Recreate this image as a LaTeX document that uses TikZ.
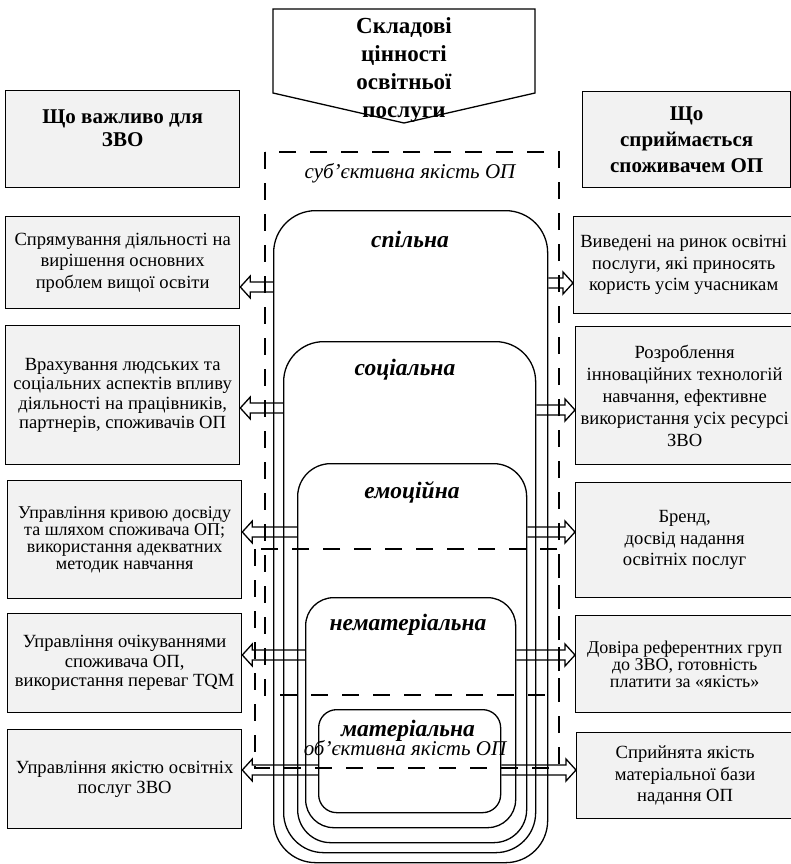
\documentclass[tikz,border=0pt]{standalone}
\usepackage{fontspec}
\setmainfont{Liberation Serif}
\usetikzlibrary{calc}
\definecolor{boxgray}{RGB}{242,242,242}

\begin{document}
\begin{tikzpicture}[x=1pt,y=-1pt,
  box/.style={draw, line width=1.3pt, fill=boxgray, align=center, inner sep=0pt, anchor=north west},
  hdr/.style={font=\bfseries\fontsize{21}{23}\selectfont},
  txt/.style={font=\fontsize{18.6}{21.5}\selectfont},
  layer/.style={draw, line width=1.3pt, anchor=north west, inner sep=0pt},
  tag/.style={font=\bfseries\itshape\fontsize{23.5}{25}\selectfont, anchor=base},
  zone/.style={line width=2.4pt, dash pattern=on 17pt off 14pt},
  zonetag/.style={font=\itshape\fontsize{21}{23}\selectfont, anchor=base},
  hollow/.style={line width=1.3pt, to path={
    let \p1=(\tikztostart), \p2=(\tikztotarget),
        \p3=($(\tikztotarget)!10pt!(\tikztostart)$) in
    (\x1,\y1+5pt) -- (\x3,\y1+5pt) -- (\x3,\y1+11pt) -- (\x2,\y2)
    -- (\x3,\y1-11pt) -- (\x3,\y1-5pt) -- (\x1,\y1-5pt)}}
]
\useasboundingbox (0,0) rectangle (791,864);

% title pentagon
\draw[line width=1.3pt] (273,9) -- (535,9) -- (535,93) -- (404,123) -- (273,93) -- cycle;
\node[font=\bfseries\fontsize{23}{28}\selectfont, align=center] (title) at (404,70)
  {Складові\\цінності\\освітньої\\послуги};

% left column
\node[box, hdr, minimum width=234pt, minimum height=97pt] (lh) at (5,90)
  {Що важливо для\\ЗВО\\\mbox{}};
\node[box, txt, minimum width=234pt, minimum height=92pt] (l1) at (5,216)
  {Спрямування діяльності на\\вирішення основних\\проблем вищої освіти};
\node[box, txt, font=\fontsize{18.6}{19.5}\selectfont, minimum width=234pt, minimum height=139pt] (l2) at (5,325)
  {Врахування людських та\\соціальних аспектів впливу\\діяльності на працівників,\\партнерів, споживачів ОП};
\node[box, txt, font=\fontsize{18}{17}\selectfont, minimum width=234pt, minimum height=118pt] (l3) at (7,480)
  {Управління кривою досвіду\\та шляхом споживача ОП;\\використання адекватних\\методик навчання};
\node[box, txt, font=\fontsize{18.6}{19.5}\selectfont, minimum width=234pt, minimum height=99pt] (l4) at (7,613)
  {Управління очікуваннями\\споживача ОП,\\використання переваг TQM};
\node[box, txt, font=\fontsize{18.6}{20}\selectfont, minimum width=234pt, minimum height=99pt] (l5) at (7,729)
  {Управління якістю освітніх\\послуг ЗВО};

% right column
\node[box, hdr, font=\bfseries\fontsize{21}{26}\selectfont, minimum width=208pt, minimum height=96pt] (rh) at (582,91)
  {Що\\сприймається\\споживачем ОП};
\node[box, txt, minimum width=220pt, minimum height=97pt] (r1) at (573,216)
  {Виведені на ринок освітні\\послуги, які приносять\\користь усім учасникам};
\node[box, txt, font=\fontsize{18.6}{22}\selectfont, minimum width=218pt, minimum height=138pt] (r2) at (575,326)
  {Розроблення\\інноваційних технологій\\навчання, ефективне\\використання усіх ресурсі\\ЗВО};
\node[box, txt, minimum width=218pt, minimum height=115pt] (r3) at (575,482)
  {Бренд,\\досвід надання\\освітніх послуг};
\node[box, txt, font=\fontsize{18}{17}\selectfont, minimum width=218pt, minimum height=97pt] (r4) at (575,615)
  {Довіра референтних груп\\до ЗВО, готовність\\платити за «якість»};
\node[box, txt, minimum width=217pt, minimum height=86pt] (r5) at (576,732)
  {Сприйнята якість\\матеріальної бази\\надання ОП};

% nested value layers
\node[layer, rounded corners=42pt, minimum width=274pt, minimum height=652pt] (sp) at (273,210) {};
\node[layer, rounded corners=40pt, minimum width=252pt, minimum height=511pt] (so) at (283,341) {};
\node[layer, rounded corners=33pt, minimum width=229pt, minimum height=379pt] (em) at (297,463) {};
\node[layer, rounded corners=28pt, minimum width=210pt, minimum height=230pt] (nm) at (305,597) {};
\node[layer, rounded corners=18pt, minimum width=182pt, minimum height=103pt] (mt) at (318,709) {};

\node[tag] (tsp) at (410,247) {спільна};
\node[tag] (tso) at (405,375) {соціальна};
\node[tag] (tem) at (412,498) {емоційна};
\node[tag] (tnm) at (408,630) {нематеріальна};
\node[tag] (tmt) at (408,736) {матеріальна};

% subjective and objective quality zones
\draw[zone] (265,152) rectangle (559,695);
\draw[zone] (255,549) rectangle (559,768);
\node[zonetag] (subj) at (410,178) {суб’єктивна якість ОП};
\node[zonetag] (obj) at (405,755) {об’єктивна якість ОП};

% links from layers to the boxes
\draw[hollow] (sp.west |- 0,287) to (l1.east |- 0,287);
\draw[hollow] (sp.east |- 0,283) to (r1.west |- 0,283);
\draw[hollow] (so.west |- 0,408) to (l2.east |- 0,408);
\draw[hollow] (so.east |- 0,410) to (r2.west |- 0,410);
\draw[hollow] (em.west |- 0,532) to (l3.east |- 0,532);
\draw[hollow] (em.east |- 0,532) to (r3.west |- 0,532);
\draw[hollow] (nm.west |- 0,655) to (l4.east |- 0,655);
\draw[hollow] (nm.east |- 0,655) to (r4.west |- 0,655);
\draw[hollow] (mt.west |- 0,770) to (l5.east |- 0,770);
\draw[hollow] (mt.east |- 0,770) to (r5.west |- 0,770);
\end{tikzpicture}
\end{document}
